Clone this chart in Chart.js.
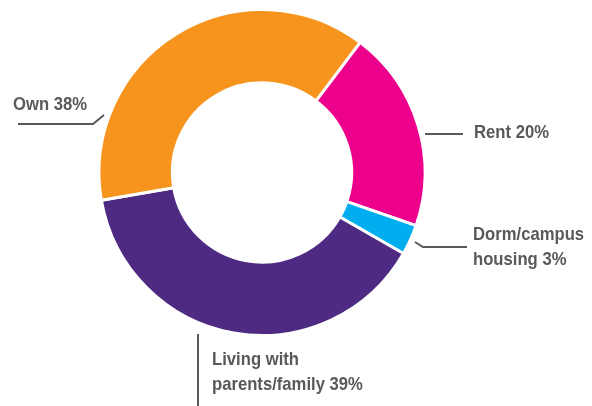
<!DOCTYPE html>
<html>
<head>
<meta charset="utf-8">
<script src="https://cdn.jsdelivr.net/npm/chart.js@4"></script>
<style>
  html, body { margin: 0; padding: 0; background: #fff; }
  #wrap { width: 592px; height: 406px; }
</style>
</head>
<body>
<div id="wrap"><canvas id="myChart" width="592" height="406"></canvas></div>
<script>
// Category names, split into the lines they are printed on
const categoryLines = [
  ["Rent"],
  ["Dorm/campus", "housing"],
  ["Living with", "parents/family"],
  ["Own"],
];
const shares = [20, 3, 39, 38];
const sliceColors = ["#EC008C", "#00AEEF", "#4E2A82", "#F7941E"];

const categories = categoryLines.map((l) => l.join(" "));

// Label boxes and leader lines, placed by hand like the original
const calloutLayout = [
  { x: 474, y: 133, line: [[425, 134], [463, 134]] },
  { x: 473, y: 235, line: [[415, 242], [423, 247], [467, 247]] },
  { x: 212, y: 360, line: [[198, 334], [198, 406]] },
  { x: 13, y: 105, line: [[18, 124], [93, 124], [104, 115]] },
];

const calloutPlugin = {
  id: "callouts",
  afterDraw(chart) {
    const ctx = chart.ctx;
    ctx.save();
    ctx.strokeStyle = "#58595B";
    ctx.lineWidth = 2;
    ctx.fillStyle = "#58595B";
    ctx.font = "bold 17px 'Liberation Sans', Arial, sans-serif";
    ctx.textBaseline = "middle";
    ctx.textAlign = "left";
    categoryLines.forEach((lines, i) => {
      const c = calloutLayout[i];
      ctx.beginPath();
      c.line.forEach((p, j) => (j ? ctx.lineTo(p[0], p[1]) : ctx.moveTo(p[0], p[1])));
      ctx.stroke();
      lines.forEach((t, k) => {
        const txt = k === lines.length - 1 ? t + " " + shares[i] + "%" : t;
        // the original type is a touch taller than Arial, stretch it a little
        ctx.save();
        ctx.translate(c.x, c.y + k * 24.5);
        ctx.scale(0.98, 1.12);
        ctx.fillText(txt, 0, 0);
        ctx.restore();
      });
    });
    ctx.restore();
  },
};

new Chart(document.getElementById("myChart"), {
  type: "doughnut",
  data: {
    labels: categories,
    datasets: [
      {
        data: shares,
        backgroundColor: sliceColors,
        borderColor: "#ffffff",
        borderWidth: 3,
        hoverOffset: 0,
      },
    ],
  },
  options: {
    responsive: false,
    animation: false,
    rotation: 37,
    cutout: "55%",
    layout: { padding: { top: 8, bottom: 69, left: 0, right: 68 } },
    plugins: {
      legend: { display: false },
      tooltip: { enabled: false },
    },
  },
  plugins: [calloutPlugin],
});
</script>
</body>
</html>
